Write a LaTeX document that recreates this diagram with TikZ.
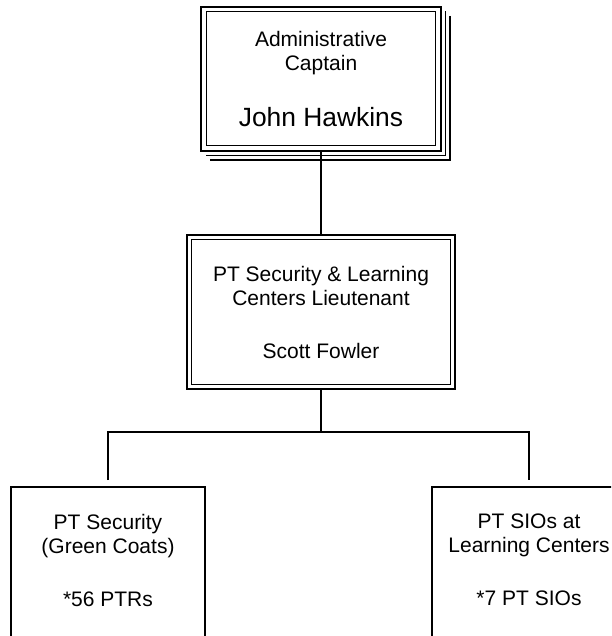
\documentclass[tikz,border=0pt]{standalone}
\usepackage{fontspec}
\setmainfont{Liberation Sans}
\usetikzlibrary{positioning}

\begin{document}
\begin{tikzpicture}
  [x=0.5pt,y=-0.5pt,
    every node/.style={rectangle,draw=none,fill=none,inner sep=0pt,outer sep=0pt,align=center,font=\fontsize{10.5}{12}\selectfont},
    post/.style={draw,line width=1pt},
    unit/.style={draw,line width=0.8pt,minimum width=97pt,minimum height=100pt,anchor=north},
    link/.style={line width=0.8pt}]
  \useasboundingbox (0,0) rectangle (611,636);
  \clip (0,0) rectangle (611,636);
  \node[post,minimum width=120pt,minimum height=72pt] (n0) at (321,79)
    {Administrative\\Captain\\[16.35pt]{\fontsize{13.2}{12}\selectfont John Hawkins}};
  \node[post,minimum width=134pt,minimum height=77pt] (n1) at (321,312)
    {PT Security \& Learning\\Centers Lieutenant\\[14.5pt]Scott Fowler};
  \node[unit] (n2) at (108,487) {};
  \node[unit] (n3) at (529,487) {};
  \node (t2) [below=13.6pt of n2.north] {PT Security\\(Green Coats)\\[14.5pt]*56 PTRs};
  \node (t3) [below=13.6pt of n3.north] {PT SIOs at\\Learning Centers\\[14.5pt]*7 PT SIOs};
  % inner frames
  \draw[line width=0.5pt] ([shift={(5.5,5)}]n0.north west) rectangle ([shift={(-5.5,-5)}]n0.south east);
  \draw[line width=0.6pt] ([shift={(4.5,4.5)}]n1.north west) rectangle ([shift={(-4.5,-4.5)}]n1.south east);
  % stacked sheets behind the captain
  \foreach \s in {4.5,9}
    \draw[line width=0.75pt] ([shift={(\s,\s)}]n0.north east) |- ([shift={(\s,\s)}]n0.south west);
  % connectors
  \coordinate (bus) at (321,432);
  \draw[link] (n0.south) -- (n1.north);
  \draw[link] (n1.south) -- (bus);
  \draw[link] ([yshift=3.5pt]n2.north) |- (bus) -| ([yshift=3.5pt]n3.north);
\end{tikzpicture}
\end{document}
